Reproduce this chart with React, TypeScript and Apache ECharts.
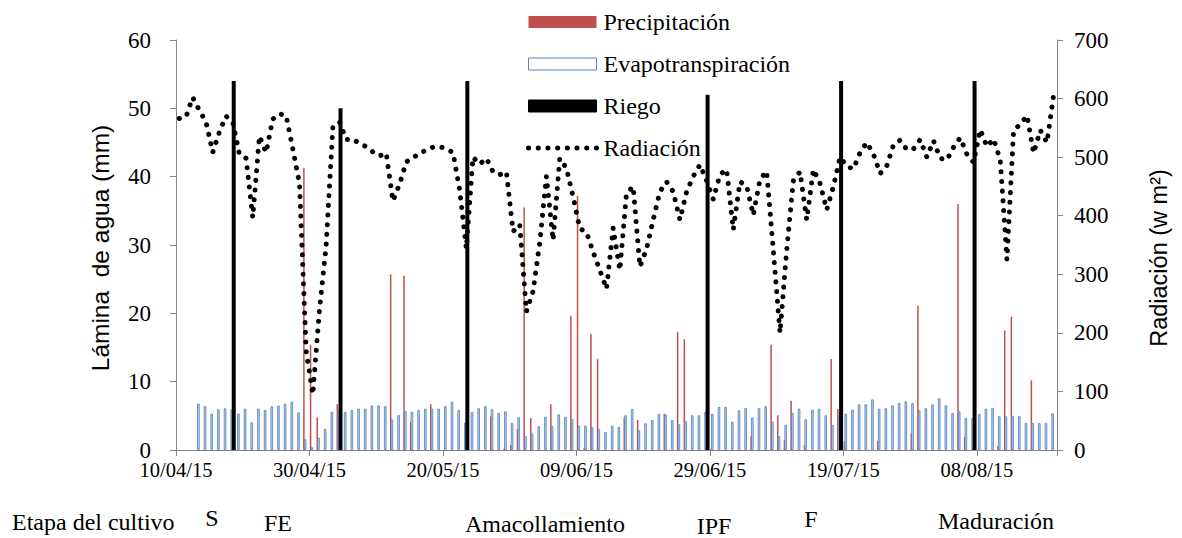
import React, { useEffect, useRef } from "react";
import * as echarts from "echarts";

// ---- Data ----
const START = { year: 2015, month: 4, day: 10 };
const DAY_COUNT = 132;

// Daily radiation (w m-2), day 0 = 10/04/15
const radiation = [
  566, 569, 602, 580, 560, 508, 543, 570, 560, 505,
  498, 397, 536, 508, 565, 574, 571, 514, 455, 169,
  95, 240, 349, 551, 560, 530, 531, 523, 518, 509,
  502, 507, 425, 454, 492, 498, 508, 511, 517, 518,
  514, 508, 444, 344, 500, 488, 498, 475, 470, 475,
  373, 385, 236, 271, 354, 467, 358, 498, 481, 432,
  378, 372, 338, 307, 275, 379, 307, 438, 450, 313,
  343, 393, 441, 458, 441, 393, 441, 467, 487, 460,
  428, 470, 479, 376, 458, 451, 401, 462, 476, 340,
  200, 341, 460, 475, 393, 479, 455, 410, 450, 500,
  484, 480, 508, 525, 505, 472, 485, 521, 529, 513,
  514, 530, 500, 528, 498, 495, 517, 533, 505, 491,
  547, 518, 531, 495, 325, 546, 556, 571, 507, 546,
  525, 607,
];

// Evapotranspiration (mm), starting at day 3
const ET_START_DAY = 3;
const evapotranspiration = [
  6.78, 6.44, 5.32, 5.95, 6.1, 5.95, 5.32, 6.05, 4.05, 6.05,
  5.85, 6.39, 6.5, 6.78, 7.07, 5.51, 1.56, 0.39, 1.8, 3.07,
  5.6, 5.8, 5.56, 5.85, 6.05, 6.05, 6.5, 6.5, 6.4, 4.45,
  5.1, 5.7, 5.6, 5.85, 6.05, 6.05, 6.05, 6.4, 7.07, 5.85,
  4.0, 5.56, 6.1, 6.4, 5.95, 5.4, 5.66, 3.95, 4.78, 2.05,
  2.4, 3.46, 4.88, 3.5, 5.2, 4.83, 4.54, 3.56, 3.56, 3.32,
  3.03, 2.63, 3.56, 3.37, 5.07, 6.0, 2.88, 3.9, 4.39, 5.27,
  5.17, 4.39, 3.76, 4.2, 5.07, 5.07, 5.6, 5.3, 6.3, 6.3,
  4.15, 5.8, 6.15, 4.73, 6.15, 6.4, 4.15, 2.0, 3.66, 5.46,
  6.05, 4.49, 5.9, 6.05, 5.07, 3.66, 5.0, 5.3, 5.9, 6.68,
  6.68, 7.4, 6.05, 6.1, 6.54, 6.88, 7.12, 6.88, 5.8, 6.1,
  6.68, 7.56, 6.54, 5.4, 5.66, 4.68, 4.63, 5.27, 6.05, 6.15,
  4.93, 4.93, 4.93, 4.93, 3.95, 3.95, 3.95, 3.95, 5.37,
];

// Precipitation (mm): day index and value
const precipDays = [
  19, 20, 21, 24, 32, 34, 35, 38, 47, 49, 50, 51, 52, 53, 56, 59, 60, 61, 62, 63,
  67, 69, 73, 75, 76, 80, 86, 89, 90, 91, 92, 94, 98, 99, 100, 105, 110, 111, 117, 118,
  123, 124, 125, 128,
];
const precipValues = [
  41.3, 15.4, 4.8, 6.7, 25.7, 25.5, 4.1, 6.7, 4.9, 0.2, 0.7, 3.1, 35.5, 4.7, 6.7, 19.6, 37.2, 0.3, 17.0, 13.3,
  4.7, 4.4, 5.3, 17.3, 16.2, 0.2, 2.0, 15.4, 5.1, 1.5, 7.2, 0.7, 13.3, 6.0, 1.3, 1.3, 2.4, 21.1, 36.0, 1.9,
  0.6, 17.5, 19.5, 10.2,
];

// Irrigation (mm)
const riegoDays = [8, 24, 43, 79, 99, 119];
const riegoValues = [54, 50, 54, 52, 54, 54];

// Crop stages
const stageTitle = "Etapa del cultivo";
const stageLabels = ["S", "FE", "Amacollamiento", "IPF", "F", "Maduración"];
const stageX = [212, 278, 545, 714, 811, 996];
const stageY = [518, 523, 524, 526, 519, 521];

const seriesNames = ["Precipitación", "Evapotranspiración", "Riego", "Radiación"];

const pad = (n: number) => String(n).padStart(2, "0");
const categories = Array.from({ length: DAY_COUNT }, (_, i) => {
  const d = new Date(Date.UTC(START.year, START.month - 1, START.day + i));
  return `${pad(d.getUTCDate())}/${pad(d.getUTCMonth() + 1)}/${String(d.getUTCFullYear()).slice(2)}`;
});

function sparse(days: number[], values: number[]) {
  const arr: (number | null)[] = new Array(DAY_COUNT).fill(null);
  days.forEach((d, i) => (arr[d] = values[i]));
  return arr;
}

const precipSeries = sparse(precipDays, precipValues);
const riegoSeries = sparse(riegoDays, riegoValues);
const etSeries: (number | null)[] = new Array(DAY_COUNT).fill(null);
evapotranspiration.forEach((v, i) => (etSeries[ET_START_DAY + i] = v));

const SERIF = "Liberation Serif, Times New Roman, serif";
const SANS = "Liberation Sans, Arial, sans-serif";
const AXIS_GRAY = "#868686";
const DOT_LINE = { color: "#000000", width: 5, type: [0.1, 9.6], cap: "round" };

export default function App() {
  const ref = useRef<HTMLDivElement>(null);

  useEffect(() => {
    document.body.style.margin = "0";
    if (!ref.current) return;
    const chart = echarts.init(ref.current, undefined, { renderer: "svg" });
    const option: any = {
      animation: false,
      backgroundColor: "#ffffff",
      grid: {
        left: 176,
        right: 125,
        top: 40,
        bottom: 88,
        containLabel: false,
        outerBoundsMode: "none",
      },
      legend: {
        orient: "vertical",
        left: 521,
        top: 5,
        itemWidth: 68,
        itemHeight: 12,
        itemGap: 18,
        textStyle: { fontFamily: SERIF, fontSize: 24, color: "#000", padding: [0, 0, 0, 2] },
        data: [
          { name: seriesNames[0], icon: "rect" },
          {
            name: seriesNames[1],
            icon: "rect",
            itemStyle: { color: "#ffffff", borderColor: "#4f81bd", borderWidth: 1 },
          },
          {
            name: seriesNames[2],
            icon: "rect",
            itemStyle: { color: "#000000", borderColor: "#000000", borderWidth: 1 },
          },
          { name: seriesNames[3], itemStyle: { opacity: 0 }, lineStyle: DOT_LINE },
        ],
      },
      xAxis: {
        type: "category",
        data: categories,
        boundaryGap: true,
        axisLine: { show: true, lineStyle: { color: AXIS_GRAY, width: 1 } },
        axisTick: { show: true, interval: 19, length: 6, lineStyle: { color: AXIS_GRAY } },
        axisLabel: {
          interval: 19,
          margin: 11,
          fontFamily: SERIF,
          fontSize: 20.5,
          lineHeight: 18,
          color: "#000",
          padding: [0, 6.7, 0, 0],
        },
        splitLine: { show: false },
      },
      yAxis: [
        {
          type: "value",
          min: 0,
          max: 60,
          interval: 10,
          position: "left",
          name: "Lámina  de agua (mm)",
          nameLocation: "middle",
          nameRotate: 90,
          nameGap: 63,
          nameTextStyle: {
            fontFamily: SANS,
            fontSize: 24.5,
            color: "#000",
            padding: [0, 6, 0, 0],
          },
          axisLine: { show: true, lineStyle: { color: AXIS_GRAY } },
          axisTick: { show: true, length: 6, lineStyle: { color: AXIS_GRAY } },
          axisLabel: { margin: 25, fontFamily: SERIF, fontSize: 23, lineHeight: 18, color: "#000" },
          splitLine: { show: false },
        },
        {
          type: "value",
          min: 0,
          max: 700,
          interval: 100,
          position: "right",
          name: "Radiación (w m²)",
          nameLocation: "middle",
          nameRotate: 90,
          nameGap: 90,
          nameTextStyle: {
            fontFamily: SANS,
            fontSize: 23.5,
            color: "#000",
            padding: [0, 26, 0, 0],
          },
          axisLine: { show: true, lineStyle: { color: AXIS_GRAY } },
          axisTick: { show: true, length: 6, lineStyle: { color: AXIS_GRAY } },
          axisLabel: { margin: 17, fontFamily: SERIF, fontSize: 23, lineHeight: 18, color: "#000" },
          splitLine: { show: false },
        },
      ],
      series: [
        {
          name: seriesNames[0],
          type: "bar",
          data: precipSeries,
          barWidth: 1.5,
          barGap: "-50%",
          itemStyle: { color: "#c0504d" },
        },
        {
          name: seriesNames[1],
          type: "bar",
          data: etSeries,
          barWidth: 2.5,
          barGap: "-50%",
          itemStyle: { color: "#b9cde8", borderColor: "#4f81bd", borderWidth: 0.8 },
        },
        {
          name: seriesNames[2],
          type: "bar",
          data: riegoSeries,
          barWidth: 4,
          barGap: "-50%",
          itemStyle: { color: "#000000" },
        },
        {
          name: seriesNames[3],
          type: "line",
          yAxisIndex: 1,
          data: radiation,
          symbol: "none",
          showSymbol: false,
          z: 5,
          itemStyle: { color: "#000000" },
          lineStyle: DOT_LINE,
        },
      ],
      graphic: [
        {
          type: "text",
          x: 12,
          y: 522,
          style: {
            text: stageTitle,
            fontSize: 24,
            fontFamily: SERIF,
            fill: "#000",
            textAlign: "left",
            textVerticalAlign: "middle",
          },
        },
        ...stageLabels.map((t, i) => ({
          type: "text",
          x: stageX[i],
          y: stageY[i],
          style: {
            text: t,
            fontSize: 24,
            fontFamily: SERIF,
            fill: "#000",
            textAlign: "center",
            textVerticalAlign: "middle",
          },
        })),
      ],
    };
    chart.setOption(option);
    return () => chart.dispose();
  }, []);

  return <div ref={ref} style={{ width: 1182, height: 538 }} />;
}
